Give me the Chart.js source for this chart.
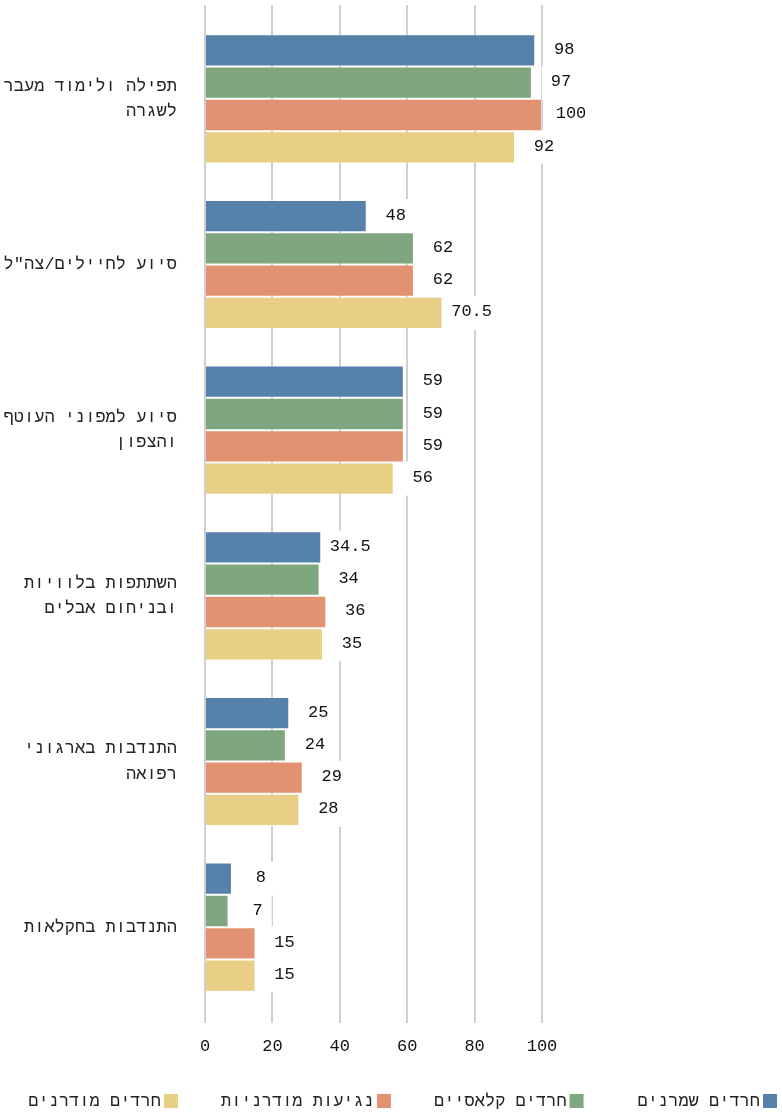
<!DOCTYPE html>
<html><head><meta charset="utf-8">
<script src="https://cdn.jsdelivr.net/npm/chart.js@4"></script>
<style>html,body{margin:0;padding:0;background:#fff}</style>
</head><body><canvas id="c" width="782" height="1112"></canvas>
<script>
const categories = [["תפילה ולימוד מעבר","לשגרה"], 'סיוע לחיילים/צה"ל', ["סיוע למפוני העוטף","והצפון"], ["השתתפות בלוויות","ובניחום אבלים"], ["התנדבות בארגוני","רפואה"], "התנדבות בחקלאות"];
const seriesNames = ["חרדים שמרנים","חרדים קלאסיים","נגיעות מודרניות","חרדים מודרנים"];
const conservative = [98, 48, 59, 34.5, 25, 8];
const classic = [97, 62, 59, 34, 24, 7];
const modernTouch = [100, 62, 59, 36, 29, 15];
const modern = [92, 70.5, 56, 35, 28, 15];
const xTicks = [0, 20, 40, 60, 80, 100];

const colors = ['#5681aa', '#7fa77f', '#e29270', '#e9cf85'];
const FONT = '"Liberation Mono", "DejaVu Sans Mono", monospace';
const GRID = '#cfcfcf';

const valueLabels = {
  id: 'valueLabels',
  beforeDatasetsDraw(chart) {
    const ctx = chart.ctx;
    ctx.save();
    ctx.font = '17px ' + FONT;
    ctx.textAlign = 'center';
    ctx.textBaseline = 'middle';
    const items = [];
    chart.data.datasets.forEach((ds, i) => {
      chart.getDatasetMeta(i).data.forEach((bar, j) => {
        const txt = String(ds.data[j]);
        const w = ctx.measureText(txt).width;
        items.push({txt, w, cx: bar.x + 29, cy: bar.y});
      });
    });
    ctx.fillStyle = '#fff';
    items.forEach(it => ctx.fillRect(it.cx - it.w / 2 - 9, it.cy - 17, it.w + 18, 34));
    ctx.fillStyle = '#111';
    items.forEach(it => ctx.fillText(it.txt, it.cx, it.cy - 1));
    ctx.restore();
  }
};

const customLegend = {
  id: 'customLegend',
  afterDraw(chart) {
    const ctx = chart.ctx;
    ctx.save();
    ctx.font = '17px ' + FONT;
    ctx.textAlign = 'right';
    ctx.textBaseline = 'middle';
    let R = 777;
    const y = 1101;
    chart.data.datasets.forEach((ds, i) => {
      ctx.fillStyle = ds.backgroundColor;
      ctx.fillRect(R - 14, y - 7, 14, 14);
      ctx.fillStyle = '#222';
      ctx.fillText(ds.label, R - 17, y);
      const w = ctx.measureText(ds.label).width;
      R = R - 17 - w - (i === 0 ? 54 : 43);
    });
    ctx.restore();
  }
};

const setTicks = s => { s.ticks = xTicks.map(v => ({value: v})); };

new Chart(document.getElementById('c'), {
  type: 'bar',
  data: {
    labels: categories,
    datasets: [conservative, classic, modernTouch, modern].map((d, i) => ({
      label: seriesNames[i],
      data: d,
      backgroundColor: colors[i],
      borderColor: 'rgba(255,255,255,0.3)',
      borderWidth: 1,
      categoryPercentage: 0.78,
      barPercentage: 1.0
    }))
  },
  options: {
    indexAxis: 'y',
    responsive: false,
    devicePixelRatio: 1,
    animation: false,
    layout: {padding: {top: 5, right: 240, bottom: 56, left: 0}},
    plugins: {legend: {display: false}, tooltip: {enabled: false}},
    scales: {
      x: {
        type: 'linear', position: 'bottom', min: 0, max: 100,
        afterBuildTicks: setTicks,
        grid: {color: GRID, lineWidth: 2, tickLength: 13, tickColor: GRID},
        border: {display: false},
        ticks: {font: {family: FONT, size: 17}, color: '#111', padding: 13},
        afterFit(s) { s.height = 46; s.paddingLeft = 0; s.paddingRight = 0; }
      },
      x2: {
        type: 'linear', position: 'top', min: 0, max: 100,
        afterBuildTicks: setTicks,
        grid: {color: GRID, lineWidth: 2, tickLength: 11, tickColor: GRID, drawOnChartArea: false},
        border: {display: false},
        ticks: {display: false},
        afterFit(s) { s.height = 11; s.paddingLeft = 0; s.paddingRight = 0; }
      },
      y: {
        grid: {display: false, drawTicks: false},
        border: {display: false},
        ticks: {font: {family: FONT, size: 17, lineHeight: 1.5}, color: '#222', padding: 28},
        afterFit(s) { s.width = 205; s.paddingTop = 0; s.paddingBottom = 0; }
      }
    }
  },
  plugins: [valueLabels, customLegend]
});
</script></body></html>
